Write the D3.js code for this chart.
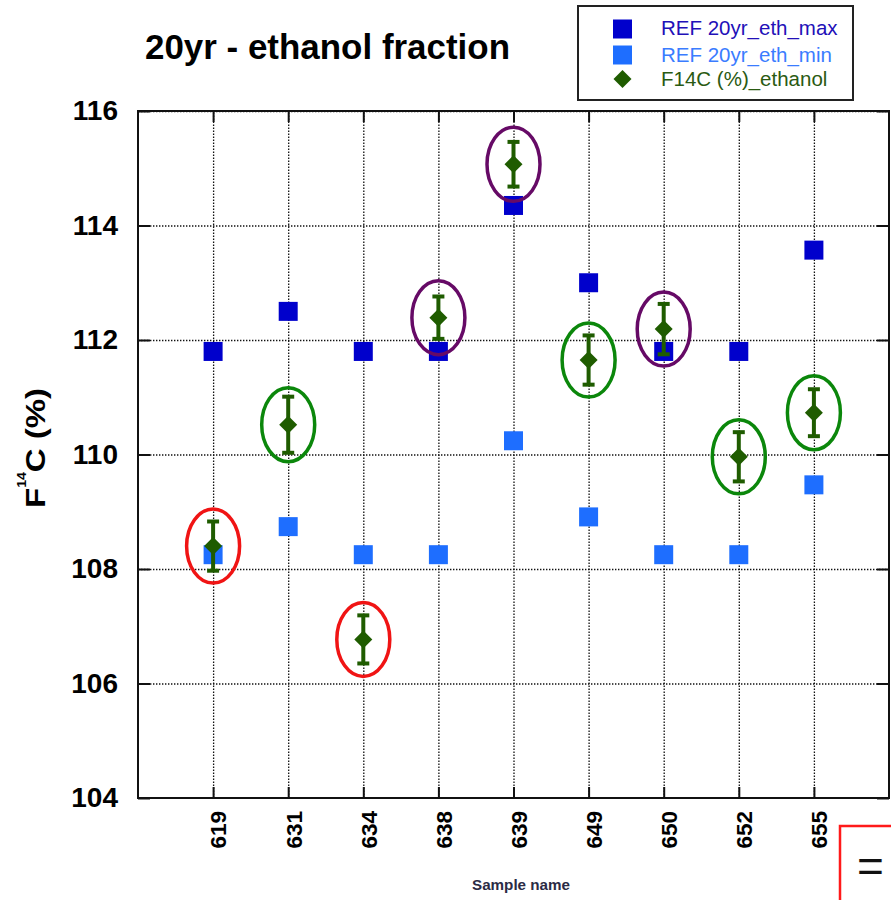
<!DOCTYPE html>
<html>
<head>
<meta charset="utf-8">
<script src="https://cdn.jsdelivr.net/npm/d3@7"></script>
<style>
  html, body { margin: 0; padding: 0; background: #fff; }
  svg { display: block; font-family: "Liberation Sans", Arial, Helvetica, sans-serif; }
</style>
</head>
<body>
<svg id="chart" width="891" height="900"></svg>
<script>
// Sample identifiers and measured values (F14C, %)
const samples    = ["619", "631", "634", "638", "639", "649", "650", "652", "655"];
const refMax     = [111.8, 112.5, 111.8, 111.8, 114.35, 113.0, 111.8, 111.8, 113.57];
const refMin     = [108.25, 108.74, 108.25, 108.25, 110.24, 108.91, 108.25, 108.25, 109.47];
const ethanol    = [108.4, 110.52, 106.77, 112.39, 115.07, 111.65, 112.19, 109.96, 110.73];
const ethanolErr = [0.43, 0.49, 0.42, 0.37, 0.39, 0.43, 0.44, 0.43, 0.41];
// Ring colour class around each ethanol result
const ring       = ["below", "within", "below", "above", "above", "within", "above", "within", "within"];
const yTicks     = [104, 106, 108, 110, 112, 114, 116];
const legendLabels = ["REF 20yr_eth_max", "REF 20yr_eth_min", "F14C (%)_ethanol"];

const ringColor = { below: "#f01414", within: "#0b870b", above: "#660a66" };
const cMax = "#0000cc", cMin = "#1e6eff", cEth = "#1f5c00";

const svg = d3.select("#chart");
svg.append("rect").attr("width", 891).attr("height", 900).attr("fill", "#fff");

const plot = { left: 138, right: 889, top: 111, bottom: 798 };
const pw = plot.right - plot.left, ph = plot.bottom - plot.top;

const x = d3.scaleLinear().domain([0, samples.length + 1]).range([plot.left, plot.right]);
const y = d3.scaleLinear().domain([104, 116]).range([plot.bottom, plot.top]);
const idx = d3.range(1, samples.length + 1);

// Dotted grid
const dotted = g => {
  g.select(".domain").remove();
  g.selectAll(".tick line").attr("stroke", "#111").attr("stroke-width", 1.3).attr("stroke-dasharray", "1.4,1.6");
};
svg.append("g").attr("transform", `translate(${plot.left},0)`)
  .call(d3.axisLeft(y).tickValues(yTicks.slice(1)).tickSize(-pw).tickFormat(""))
  .call(dotted);
svg.append("g").attr("transform", `translate(0,${plot.bottom})`)
  .call(d3.axisBottom(x).tickValues(idx).tickSize(-ph).tickFormat(""))
  .call(dotted);

// Frame
svg.append("rect").attr("x", plot.left).attr("y", plot.top).attr("width", pw).attr("height", ph)
  .attr("fill", "none").attr("stroke", "#111").attr("stroke-width", 2);

// Inward tick marks on all four sides
const inner = g => {
  g.select(".domain").remove();
  g.selectAll(".tick line").attr("stroke", "#111").attr("stroke-width", 2);
};
svg.append("g").attr("transform", `translate(${plot.left},0)`)
  .call(d3.axisLeft(y).tickValues(yTicks).tickSize(-12).tickFormat("")).call(inner);
svg.append("g").attr("transform", `translate(${plot.right},0)`)
  .call(d3.axisRight(y).tickValues(yTicks).tickSize(-12).tickFormat("")).call(inner);
svg.append("g").attr("transform", `translate(0,${plot.top})`)
  .call(d3.axisTop(x).tickValues(idx).tickSize(-11).tickFormat("")).call(inner);
svg.append("g").attr("transform", `translate(0,${plot.bottom})`)
  .call(d3.axisBottom(x).tickValues(idx).tickSize(-11).tickFormat("")).call(inner);

// Y tick labels
svg.append("g").attr("transform", `translate(${plot.left},0)`)
  .call(d3.axisLeft(y).tickValues(yTicks).tickSize(0).tickPadding(20).tickFormat(d3.format("d")))
  .call(g => g.select(".domain").remove())
  .call(g => g.selectAll("text").attr("font-size", 28).attr("font-weight", "bold")
    .attr("fill", "#000").attr("font-family", "'Liberation Sans', Arial, sans-serif"));

// X tick labels (rotated)
svg.append("g").attr("transform", `translate(0,${plot.bottom})`)
  .call(d3.axisBottom(x).tickValues(idx).tickSize(0).tickFormat(i => samples[i - 1]))
  .call(g => g.select(".domain").remove())
  .call(g => g.selectAll("text")
    .attr("font-size", 22.5).attr("font-weight", "bold").attr("fill", "#000")
    .attr("font-family", "'Liberation Sans', Arial, sans-serif")
    .attr("text-anchor", "end").attr("x", -13).attr("y", 5).attr("dy", "0.35em")
    .attr("transform", "rotate(-90)"));

// Reference squares
const square = d3.symbol().type(d3.symbolSquare).size(19 * 19);
svg.append("g").selectAll("path").data(refMax).join("path")
  .attr("d", square).attr("fill", cMax)
  .attr("transform", (d, i) => `translate(${x(i + 1)},${y(d)})`);
svg.append("g").selectAll("path").data(refMin).join("path")
  .attr("d", square).attr("fill", cMin)
  .attr("transform", (d, i) => `translate(${x(i + 1)},${y(d)})`);

// Ethanol results with error bars
const eb = svg.append("g").attr("stroke", cEth).attr("stroke-width", 4);
ethanol.forEach((v, i) => {
  const cx = x(i + 1), lo = y(v - ethanolErr[i]), hi = y(v + ethanolErr[i]);
  eb.append("line").attr("x1", cx).attr("x2", cx).attr("y1", lo).attr("y2", hi);
  eb.append("line").attr("x1", cx - 6).attr("x2", cx + 6).attr("y1", lo).attr("y2", lo);
  eb.append("line").attr("x1", cx - 6).attr("x2", cx + 6).attr("y1", hi).attr("y2", hi);
});
const diamond = d3.symbol().type(d3.symbolDiamond2).size(Math.pow(9 / 0.62625, 2));
svg.append("g").selectAll("path").data(ethanol).join("path")
  .attr("d", diamond).attr("fill", cEth)
  .attr("transform", (d, i) => `translate(${x(i + 1)},${y(d)})`);

// Rings
svg.append("g").selectAll("ellipse").data(ethanol).join("ellipse")
  .attr("cx", (d, i) => x(i + 1)).attr("cy", d => y(d))
  .attr("rx", 26.5).attr("ry", 37)
  .attr("fill", "none").attr("stroke-width", 3.5)
  .attr("stroke", (d, i) => ringColor[ring[i]]);

// Title
svg.append("text").attr("x", 145).attr("y", 59)
  .attr("font-size", 35).attr("font-weight", "bold").attr("fill", "#000")
  .attr("textLength", 365).attr("lengthAdjust", "spacingAndGlyphs")
  .text("20yr - ethanol fraction");

// Y axis title
const yl = svg.append("text").attr("transform", "translate(45,448) rotate(-90)")
  .attr("text-anchor", "middle").attr("font-size", 28).attr("font-weight", "bold").attr("fill", "#000")
  .attr("textLength", 120).attr("lengthAdjust", "spacingAndGlyphs");
yl.append("tspan").text("F");
yl.append("tspan").attr("font-size", 12).attr("dy", -19).text("14");
yl.append("tspan").attr("dy", 19).text("C (%)");

// X axis title
svg.append("text").attr("x", 521).attr("y", 890).attr("text-anchor", "middle")
  .attr("font-size", 15).attr("font-weight", "bold").attr("fill", "#2b2b45")
  .attr("textLength", 98).attr("lengthAdjust", "spacingAndGlyphs")
  .text("Sample name");

// Legend
const lg = svg.append("g");
lg.append("rect").attr("x", 578).attr("y", 6).attr("width", 275).attr("height", 94)
  .attr("fill", "#fff").attr("stroke", "#222").attr("stroke-width", 2);
const legendRows = [
  { sym: square, fill: cMax, text: "#2210b8", cy: 29, base: 35 },
  { sym: square, fill: cMin, text: "#3a7cff", cy: 55, base: 61.5 },
  { sym: diamond, fill: cEth, text: "#2a5a12", cy: 79, base: 86 }
];
legendRows.forEach((r, i) => {
  lg.append("path").attr("d", r.sym).attr("fill", r.fill)
    .attr("transform", `translate(622.5,${r.cy})`);
  lg.append("text").attr("x", 661).attr("y", r.base).attr("font-size", 20.5)
    .attr("fill", r.text).text(legendLabels[i]);
});

// Boxed equals sign at the lower right
svg.append("rect").attr("x", 840).attr("y", 826).attr("width", 70).attr("height", 90)
  .attr("fill", "#fff").attr("stroke", "#ff1a1a").attr("stroke-width", 2.5);
svg.append("text").attr("x", 857).attr("y", 882).attr("font-size", 46).attr("fill", "#111").text("=");
</script>
</body>
</html>
